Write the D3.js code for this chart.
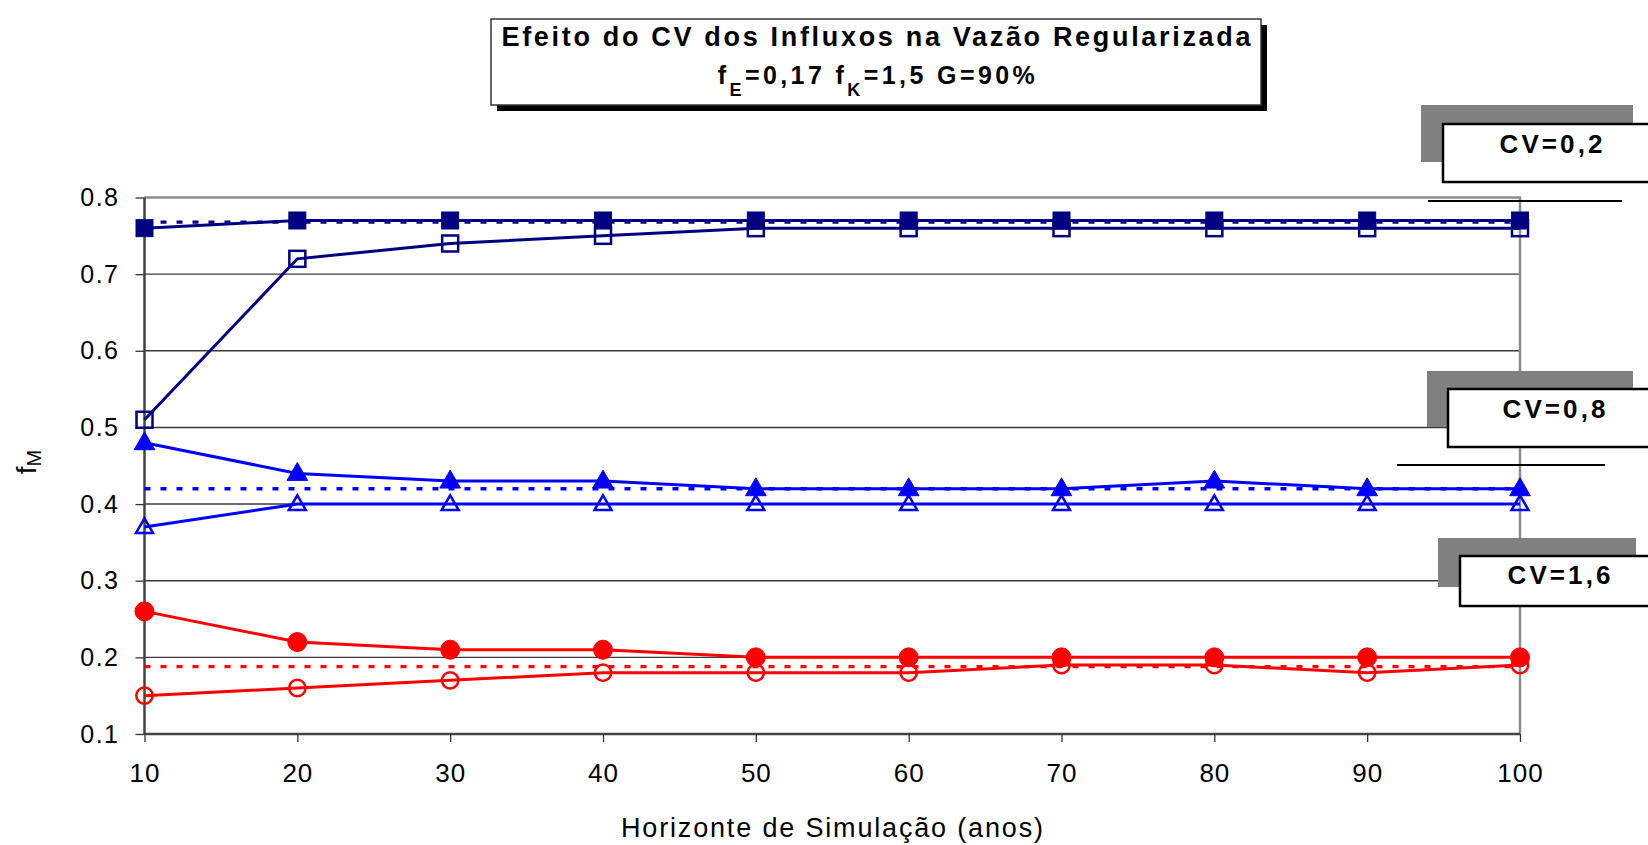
<!DOCTYPE html>
<html>
<head>
<meta charset="utf-8">
<script src="https://cdn.jsdelivr.net/npm/d3@7"></script>
<style>
body{margin:0;background:#fff;}
svg text{font-family:"Liberation Sans",Arial,sans-serif;}
</style>
</head>
<body>
<script>
// data
var horizons = [10,20,30,40,50,60,70,80,90,100]
var yTicks = [0.1,0.2,0.3,0.4,0.5,0.6,0.7,0.8]

var cv02Filled = [0.76,0.77,0.77,0.77,0.77,0.77,0.77,0.77,0.77,0.77]
var cv02Open   = [0.51,0.72,0.74,0.75,0.76,0.76,0.76,0.76,0.76,0.76]
var cv08Filled = [0.48,0.44,0.43,0.43,0.42,0.42,0.42,0.43,0.42,0.42]
var cv08Open   = [0.37,0.40,0.40,0.40,0.40,0.40,0.40,0.40,0.40,0.40]
var cv16Filled = [0.26,0.22,0.21,0.21,0.20,0.20,0.20,0.20,0.20,0.20]
var cv16Open   = [0.15,0.16,0.17,0.18,0.18,0.18,0.19,0.19,0.18,0.19]
// dotted reference levels
var refLevels = [0.768,0.42,0.188]
var cvLabels = ["CV=0,2","CV=0,8","CV=1,6"]

var W = 1648, H = 845
var svg = d3.select("body").append("svg")
	.attr("width", W)
	.attr("height", H)

var x = d3.scaleLinear().domain([10,100]).range([144.5,1520])
var y = d3.scaleLinear().domain([0.1,0.8]).range([734,197.5])

//spread a text out to a given width
function spreadTo(t, w){
	var n = t.text().length
	var nat = t.node().getComputedTextLength()
	t.attr("letter-spacing", ((w-nat)/(n-1))+"px")
}

//gridlines
svg.selectAll(".grid")
	.data(yTicks.slice(1,7))
	.enter().append("line")
		.attr("x1", x(10)).attr("x2", x(100))
		.attr("y1", function(d){return y(d)}).attr("y2", function(d){return y(d)})
		.attr("stroke","#3a3a3a").attr("stroke-width",1.4)

//frame top + right
svg.append("line")
	.attr("x1", x(10)).attr("x2", x(100)+1).attr("y1", y(0.8)).attr("y2", y(0.8))
	.attr("stroke","#8c8c8c").attr("stroke-width",2.5)
svg.append("line")
	.attr("x1", x(100)).attr("x2", x(100)).attr("y1", y(0.8)).attr("y2", y(0.1))
	.attr("stroke","#8c8c8c").attr("stroke-width",2.5)

//axes
var yAxis = d3.axisLeft(y).tickValues(yTicks).tickSize(9).tickPadding(16)
	.tickFormat(d3.format(".1f"))
var gy = svg.append("g").attr("transform","translate("+x(10)+",0)").call(yAxis)
var xAxis = d3.axisBottom(x).tickValues(horizons).tickSize(8).tickPadding(22)
var gx = svg.append("g").attr("transform","translate(0,"+y(0.1)+")").call(xAxis)
gy.select(".domain").attr("stroke","#444").attr("stroke-width",2.5)
gx.select(".domain").attr("stroke","#444").attr("stroke-width",2.5)
gy.selectAll(".tick line").attr("stroke","#333").attr("stroke-width",1.3)
gx.selectAll(".tick line").attr("stroke","#333").attr("stroke-width",1.3)
gy.selectAll(".tick text").attr("font-size","25px").attr("letter-spacing","1.5px")
	.attr("font-family","Liberation Sans, Arial, sans-serif").attr("fill","#000")
gx.selectAll(".tick text").attr("font-size","26px").attr("letter-spacing","1px")
	.attr("font-family","Liberation Sans, Arial, sans-serif").attr("fill","#000")
gx.select(".domain").attr("d","M"+x(10)+",0H"+x(100))
gy.select(".domain").attr("d","M0,"+y(0.1)+"V"+y(0.8))

//axis titles
svg.append("text")
	.attr("x", 832).attr("y", 837)
	.attr("text-anchor","middle")
	.attr("font-size","27px")
	.attr("textLength",422).attr("lengthAdjust","spacing")
	.text("Horizonte de Simulação (anos)")
var yt = svg.append("text")
	.attr("transform","translate(36,462) rotate(-90)")
	.attr("text-anchor","middle")
	.attr("font-size","28px")
yt.append("tspan").text("f")
yt.append("tspan").attr("font-size","20px").attr("dy",5).text("M")

//reference dotted lines
var refColors = ["#000080","#0000ff","#ff0000"]
for (var i=0;i<refLevels.length;i++){
	svg.append("line")
		.attr("x1", x(10)).attr("x2", x(100))
		.attr("y1", y(refLevels[i])).attr("y2", y(refLevels[i]))
		.attr("stroke", refColors[i]).attr("stroke-width",3.3)
		.attr("stroke-dasharray","6,10")
}

var line = d3.line()
	.x(function(d,i){return x(horizons[i])})
	.y(function(d){return y(d)})

var series = [
	{v:cv02Filled, c:"#000080", m:"square", fill:true},
	{v:cv02Open,   c:"#000080", m:"square", fill:false},
	{v:cv08Filled, c:"#0000ff", m:"triangle", fill:true},
	{v:cv08Open,   c:"#0000ff", m:"triangle", fill:false},
	{v:cv16Filled, c:"#ff0000", m:"circle", fill:true},
	{v:cv16Open,   c:"#ff0000", m:"circle", fill:false}
]

for (var s=0;s<series.length;s++){
	var S = series[s]
	svg.append("path")
		.attr("d", line(S.v))
		.attr("fill","none")
		.attr("stroke", S.c)
		.attr("stroke-width",3)
}
for (var s=0;s<series.length;s++){
	var S = series[s]
	var g = svg.append("g")
	for (var j=0;j<S.v.length;j++){
		var cx = x(horizons[j]), cy = y(S.v[j])
		var mk
		if (S.m == "square"){
			var a = S.fill ? 17 : 16
			mk = g.append("rect").attr("x",cx-a/2).attr("y",cy-a/2).attr("width",a).attr("height",a)
		} else if (S.m == "triangle"){
			var sym = d3.symbol().type(d3.symbolTriangle).size(S.fill ? 185 : 125)
			mk = g.append("path").attr("d",sym()).attr("transform","translate("+cx+","+(cy+1)+")")
		} else {
			mk = g.append("circle").attr("cx",cx).attr("cy",cy).attr("r", S.fill ? 9.5 : 8.2)
		}
		mk.attr("fill", S.fill ? S.c : "white")
			.attr("fill-opacity", S.fill ? 1 : 0)
			.attr("stroke", S.c)
			.attr("stroke-width", S.fill ? 1 : 2.5)
	}
}

//legend labels with shadow boxes
var legendBoxes = [
	{gx:1421, gy:105, gw:212, gh:57, bx:1443, by:124, bh:58, tx:1551, ty:153},
	{gx:1427, gy:371, gw:206, gh:56, bx:1448, by:389, bh:58, tx:1554, ty:418},
	{gx:1438, gy:538, gw:198, gh:49, bx:1460, by:556, bh:50, tx:1559, ty:584}
]
for (var i=0;i<legendBoxes.length;i++){
	var L = legendBoxes[i]
	svg.append("rect").attr("x",L.gx).attr("y",L.gy).attr("width",L.gw).attr("height",L.gh)
		.attr("fill","#808080")
	svg.append("rect").attr("x",L.bx).attr("y",L.by).attr("width",W-L.bx+10).attr("height",L.bh)
		.attr("fill","white").attr("stroke","black").attr("stroke-width",2.5)
	svg.append("text").attr("x",L.tx).attr("y",L.ty)
		.attr("text-anchor","middle")
		.attr("font-size","26px").attr("font-weight","bold")
		.attr("textLength",103).attr("lengthAdjust","spacing")
		.text(cvLabels[i])
}
//leader lines
svg.append("line").attr("x1",1428).attr("x2",1622).attr("y1",201).attr("y2",201)
	.attr("stroke","black").attr("stroke-width",2)
svg.append("line").attr("x1",1397).attr("x2",1605).attr("y1",465).attr("y2",465)
	.attr("stroke","black").attr("stroke-width",2)

//title box
svg.append("rect").attr("x",497).attr("y",25).attr("width",770).attr("height",86).attr("fill","black")
svg.append("rect").attr("x",491).attr("y",19).attr("width",770).attr("height",86)
	.attr("fill","white").attr("stroke","#333").attr("stroke-width",1.5)
svg.append("text").attr("x",876).attr("y",46)
	.attr("text-anchor","middle").attr("font-size","27px").attr("font-weight","bold")
	.attr("textLength",749).attr("lengthAdjust","spacing")
	.text("Efeito do CV dos Influxos na Vazão Regularizada")
var t2 = svg.append("text").attr("x",878).attr("y",84)
	.attr("text-anchor","middle").attr("font-size","25px").attr("font-weight","bold")
t2.append("tspan").text("f")
t2.append("tspan").attr("font-size","18px").attr("dy",12).text("E")
t2.append("tspan").attr("dy",-12).text("=0,17 f")
t2.append("tspan").attr("font-size","18px").attr("dy",12).text("K")
t2.append("tspan").attr("dy",-12).text("=1,5 G=90%")
spreadTo(t2, 317)
</script>
</body>
</html>
